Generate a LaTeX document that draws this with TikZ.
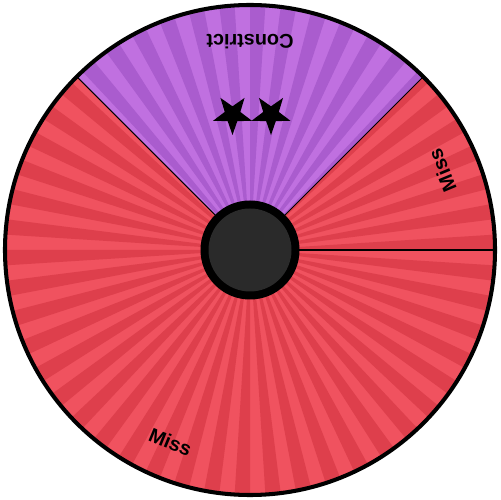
\documentclass[tikz,border=0pt]{standalone}
\usepackage{fontspec}
\setmainfont{Liberation Sans}
\usetikzlibrary{shapes.geometric}
\definecolor{redL}{HTML}{F0525F}
\definecolor{redD}{HTML}{DE3F4C}
\definecolor{purL}{HTML}{C070E0}
\definecolor{purD}{HTML}{AA5CCE}
\definecolor{hub}{HTML}{2A2A2A}
\begin{document}
\begin{tikzpicture}[x=0.02cm,y=0.02cm,
  lbl/.style={font=\bfseries\fontsize{11.3}{13}\selectfont, inner sep=0pt},
  starmark/.style={star, star points=5, star point ratio=2.5, fill=black, draw=none, minimum size=0.82cm, inner sep=0pt, rotate=180},
  sep/.style={draw=black, line width=0.6pt}]
\useasboundingbox (0,0) rectangle (500,500);
\begin{scope}[shift={(250,250)}]
  \coordinate (c) at (0,0);
  \begin{scope}
    \clip (0,0) circle[radius=245];
    \fill[redL] (-260,-260) rectangle (260,260);
    \foreach \k in {0,2,...,98}{
      \fill[redD] (0,0) -- ({3.6*\k}:300) -- ({3.6*\k+3.6}:300) -- cycle;
    }
    \begin{scope}
      \clip (0,0) -- (45:400) -- (90:400) -- (135:400) -- cycle;
      \fill[purL] (-260,-260) rectangle (260,260);
      \foreach \k in {0,2,...,98}{
        \fill[purD] (0,0) -- ({3.6*\k}:300) -- ({3.6*\k+3.6}:300) -- cycle;
      }
    \end{scope}
  \end{scope}
  \coordinate (e0) at (0:245);
  \coordinate (e45) at (45:245);
  \coordinate (e135) at (135:245);
  \draw[sep] (c) -- (e0);
  \draw[sep] (c) -- (e45);
  \draw[sep] (c) -- (e135);
  \draw[line width=2.3pt] (c) circle[radius=245];
  \fill[black] (c) circle[radius=49.5];
  \fill[hub] (c) circle[radius=41.5];
  \node[lbl, rotate=180] (t1) at (90:208) {Constrict};
  \node[lbl, rotate=112.5] (t2) at (22.5:208) {Miss};
  \node[lbl, rotate=337.5] (t3) at (247.5:208) {Miss};
  \node[starmark] (s1) at (-17.5,135.5) {};
  \node[starmark] (s2) at (21,135.5) {};
\end{scope}
\end{tikzpicture}
\end{document}
